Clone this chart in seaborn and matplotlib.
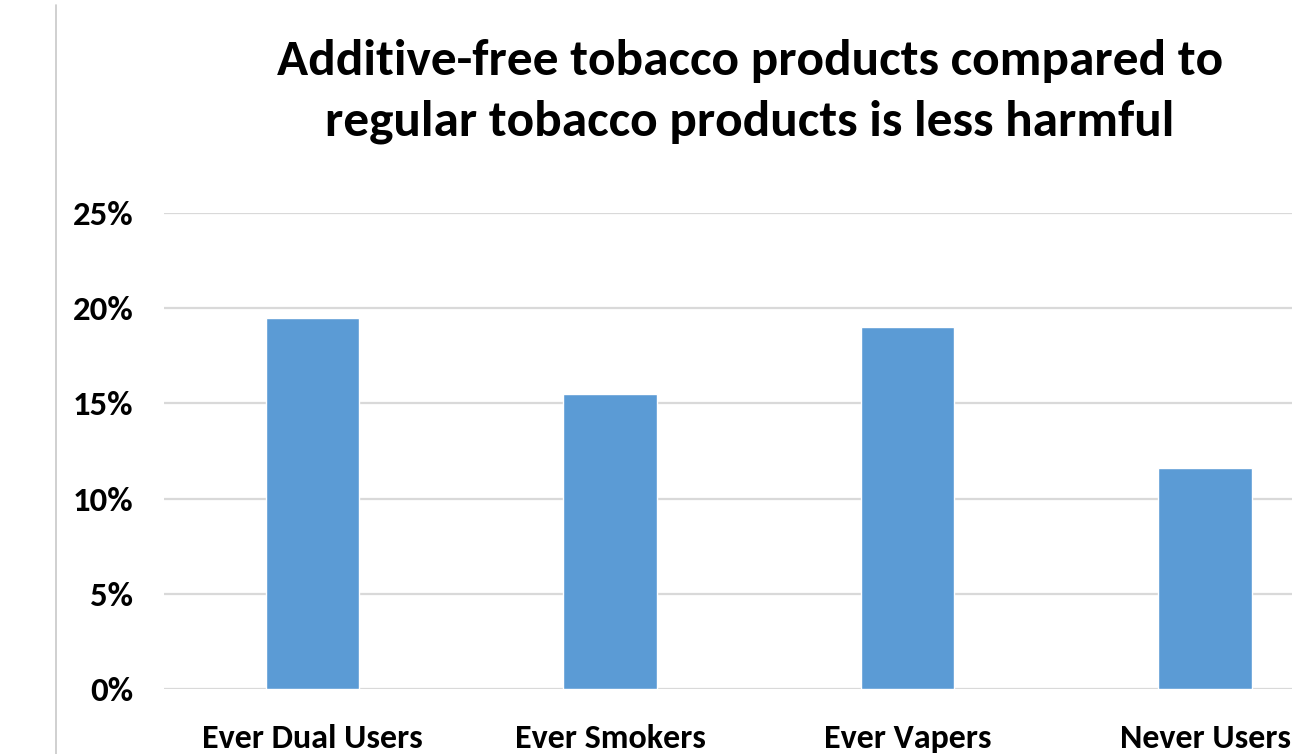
import matplotlib
matplotlib.use("Agg")
import matplotlib.pyplot as plt
import seaborn as sns
import pandas as pd
from matplotlib.lines import Line2D
from matplotlib.ticker import FuncFormatter

categories = ["Ever Dual Users", "Ever Smokers", "Ever Vapers", "Never Users"]
values = [19.5, 15.5, 19.0, 11.6]
yticks = [0, 5, 10, 15, 20, 25]
title_lines = ["Additive-free tobacco products compared to",
               "regular tobacco products is less harmful"]

sns.set_theme(style="white")
plt.rcParams['font.family'] = ['Carlito', 'DejaVu Sans']
plt.rcParams['font.weight'] = 'bold'

df = pd.DataFrame({"group": categories, "pct": values})

W, H = 1292, 754
fig = plt.figure(figsize=(W / 100, H / 100), dpi=100)
ax = fig.add_axes([163.75 / W, 65 / H, 1190 / W, 476 / H])

sns.barplot(data=df, x="group", y="pct", color="#5B9BD5", saturation=1,
            width=0.314, ax=ax, zorder=3)

ax.set_ylim(0, 25)
ax.set_xlim(-0.5, 3.5)
ax.set_yticks(yticks)
ax.yaxis.set_major_formatter(FuncFormatter(lambda v, p: f"{v:.0f}%"))
ax.grid(axis="y", color="#d9d9d9", linewidth=1.6, zorder=0)
ax.grid(axis="x", visible=False)
ax.set_axisbelow(True)
for s in ax.spines.values():
    s.set_visible(False)
ax.set_xlabel("")
ax.set_ylabel("")
ax.tick_params(axis="y", length=0, pad=22, labelsize=25, labelcolor="black")
ax.tick_params(axis="x", length=0, pad=25.5, labelsize=24.5, labelcolor="black")
for lab in ax.get_xticklabels() + ax.get_yticklabels():
    lab.set_fontweight("bold")

fig.text(750 / W, 1 - 75 / H, title_lines[0], ha="center", va="baseline",
         fontsize=37, fontweight="bold", color="black")
fig.text(750 / W, 1 - 135 / H, title_lines[1], ha="center", va="baseline",
         fontsize=37, fontweight="bold", color="black")

fig.add_artist(Line2D([55.5 / W, 55.5 / W], [0, 1 - 5 / H], transform=fig.transFigure,
                      color="#c8c8c8", linewidth=1.2))

fig.savefig("out.png", dpi=100, facecolor="white")
